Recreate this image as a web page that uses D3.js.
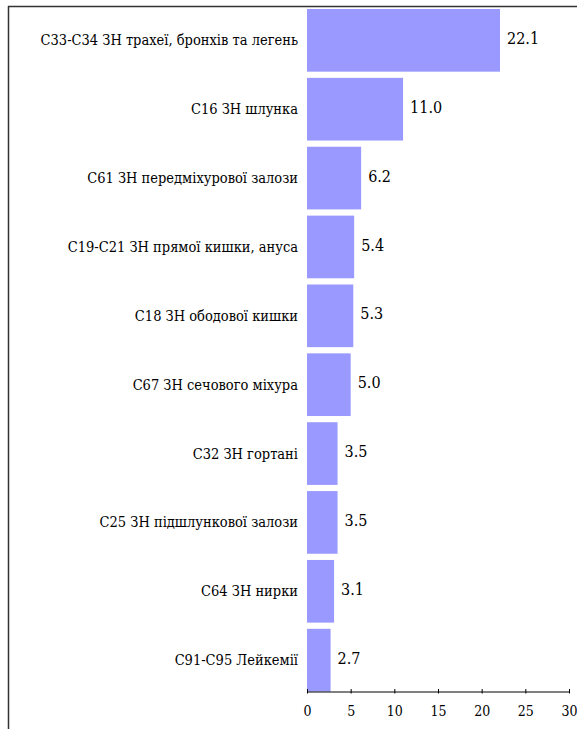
<!DOCTYPE html>
<html>
<head>
<meta charset="utf-8">
<script src="https://cdn.jsdelivr.net/npm/d3@7"></script>
<style>
  body { margin: 0; background: #fff; }
</style>
</head>
<body>
<svg></svg>
<script>
var categories = [
  "С33-С34 ЗН трахеї, бронхів та легень",
  "С16 ЗН шлунка",
  "С61 ЗН передміхурової залози",
  "С19-С21 ЗН прямої кишки, ануса",
  "С18 ЗН ободової кишки",
  "С67 ЗН сечового міхура",
  "С32 ЗН гортані",
  "С25 ЗН підшлункової залози",
  "С64 ЗН нирки",
  "С91-С95 Лейкемії"
];
var values = [22.1, 11.0, 6.2, 5.4, 5.3, 5.0, 3.5, 3.5, 3.1, 2.7];
var tickValues = [0, 5, 10, 15, 20, 25, 30];

var screen = {width: 577, height: 729};
var serif = "'DejaVu Serif Condensed', 'DejaVu Serif', serif";

var svg = d3.select("svg")
            .attr("width", screen.width)
            .attr("height", screen.height)
            .style("display", "block");

// frame (top + left edge only visible)
svg.append("line")
   .attr("x1", 8).attr("x2", screen.width)
   .attr("y1", 6.5).attr("y2", 6.5)
   .attr("stroke", "#333").attr("stroke-width", 1.5);
svg.append("line")
   .attr("x1", 8.5).attr("x2", 8.5)
   .attr("y1", 6).attr("y2", screen.height)
   .attr("stroke", "#333").attr("stroke-width", 1.5);

var x = d3.scaleLinear()
          .domain([0, 30])
          .range([307, 569]);

var y = d3.scaleBand()
          .domain(categories)
          .range([9, 691.5])
          .paddingInner(0.09)
          .paddingOuter(0);

var data = categories.map(function(c, i) { return {name: c, value: values[i]}; });

var bars = svg.append("g")
   .selectAll("g")
   .data(data)
   .enter()
   .append("g");

bars.append("rect")
    .attr("x", x(0))
    .attr("y", function(d) { return y(d.name); })
    .attr("width", function(d) { return x(d.value) - x(0); })
    .attr("height", y.bandwidth())
    .attr("fill", "#9999ff");

bars.append("text")
    .attr("x", function(d) { return x(d.value) + 7; })
    .attr("y", function(d) { return y(d.name) + y.bandwidth() / 2 - 2; })
    .attr("dy", "0.35em")
    .attr("font-family", serif)
    .attr("font-stretch", "condensed")
    .attr("font-size", "16px")
    .text(function(d) { return d.value.toFixed(1); });

bars.append("text")
    .attr("x", x(0) - 9)
    .attr("y", function(d) { return y(d.name) + y.bandwidth() / 2; })
    .attr("dy", "0.35em")
    .attr("text-anchor", "end")
    .attr("font-family", serif)
    .attr("font-stretch", "condensed")
    .attr("font-size", "14.5px")
    .text(function(d) { return d.name; });

var axis = svg.append("g")
   .attr("transform", "translate(0,691.5)")
   .call(d3.axisBottom(x).tickValues(tickValues).tickSize(0).tickPadding(0).tickFormat(d3.format("d")));

axis.select(".domain").attr("stroke", "#000");
axis.selectAll(".tick line")
    .attr("y1", -2.5).attr("y2", 2)
    .attr("stroke", "#000");
axis.selectAll(".tick text")
    .attr("y", 24)
    .attr("dy", 0)
    .attr("font-family", serif)
    .attr("font-stretch", "condensed")
    .attr("font-size", "14px");
</script>
</body>
</html>
